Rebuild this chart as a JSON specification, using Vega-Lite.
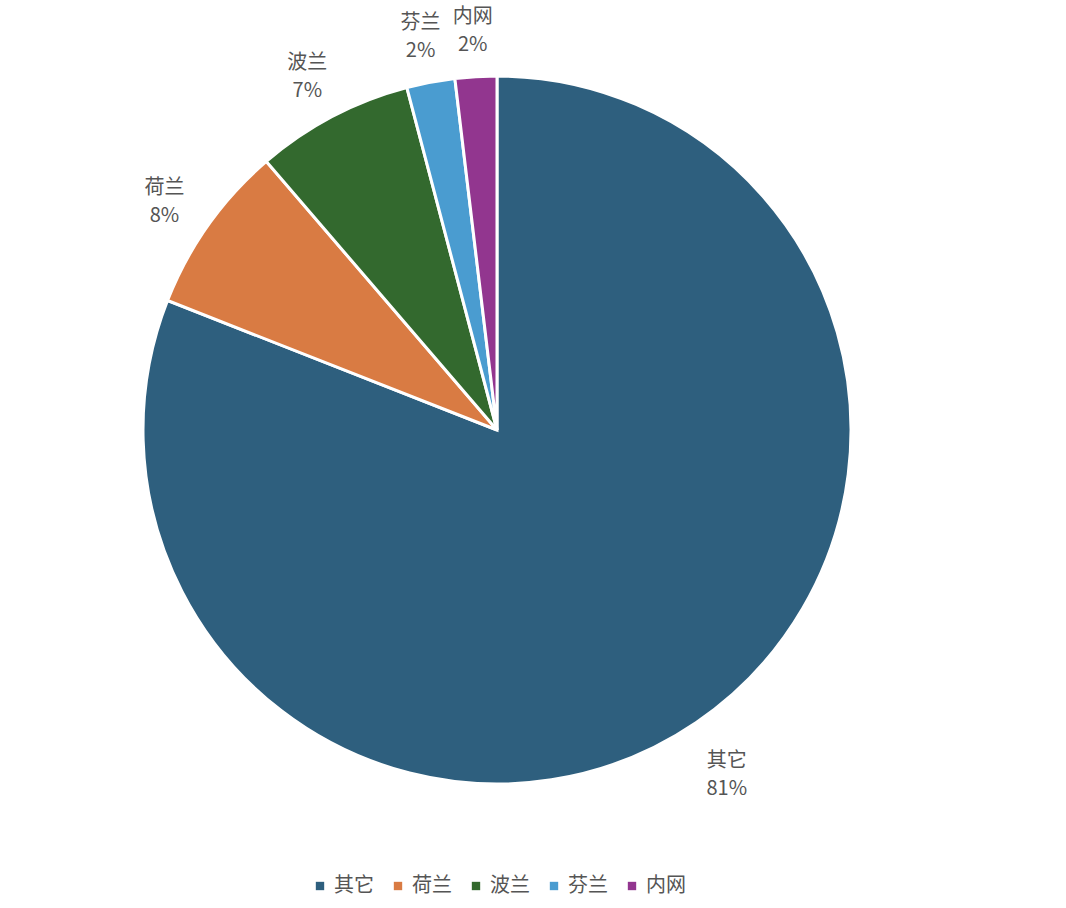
{
  "$schema": "https://vega.github.io/schema/vega-lite/v6.json",
  "width": 994,
  "height": 860,
  "autosize": {"type": "none"},
  "padding": {"left": 0, "top": 0, "right": 72, "bottom": 48},
  "background": "white",
  "data": {
    "values": [
      {"name": "其它", "value": 81.0, "label": "其它\n81%", "order": 1},
      {"name": "荷兰", "value": 7.75, "label": "荷兰\n8%", "order": 2},
      {"name": "波兰", "value": 7.2, "label": "波兰\n7%", "order": 3},
      {"name": "芬兰", "value": 2.2, "label": "芬兰\n2%", "order": 4},
      {"name": "内网", "value": 1.9, "label": "内网\n2%", "order": 5}
    ]
  },
  "encoding": {
    "theta": {"field": "value", "type": "quantitative", "stack": true},
    "order": {"field": "order", "type": "quantitative"},
    "color": {
      "field": "name",
      "type": "nominal",
      "sort": ["其它", "荷兰", "波兰", "芬兰", "内网"],
      "scale": {
        "domain": ["其它", "荷兰", "波兰", "芬兰", "内网"],
        "range": ["#2E5F7E", "#D97B43", "#33692E", "#4A9CD0", "#92368F"]
      },
      "legend": {
        "title": null,
        "orient": "none",
        "legendX": 310,
        "legendY": 876,
        "direction": "horizontal",
        "symbolType": "square",
        "symbolSize": 70,
        "symbolStrokeWidth": 0,
        "labelFont": "Noto Sans CJK SC",
        "labelFontSize": 20,
        "labelColor": "#555555",
        "columnPadding": 14
      }
    }
  },
  "layer": [
    {
      "mark": {"type": "arc", "outerRadius": 354, "stroke": "white", "strokeWidth": 3}
    },
    {
      "mark": {
        "type": "text",
        "radius": 408,
        "dy": -6,
        "font": "Noto Sans CJK SC",
        "fontSize": 20,
        "lineHeight": 28,
        "lineBreak": "\n",
        "align": "center",
        "baseline": "middle"
      },
      "encoding": {
        "text": {"field": "label", "type": "nominal"},
        "color": {"value": "#555555"}
      }
    }
  ],
  "config": {"view": {"stroke": null}}
}
